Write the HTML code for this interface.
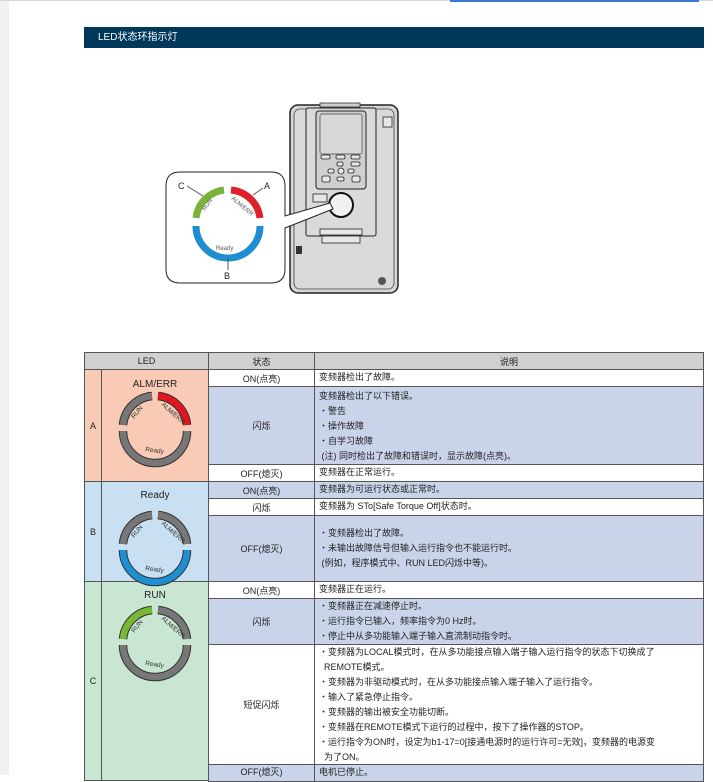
<!DOCTYPE html>
<html><head><meta charset="utf-8"><style>
*{margin:0;padding:0;box-sizing:border-box}
body{width:713px;height:775px;overflow:hidden;background:#fff;font-family:"Liberation Sans","Noto Sans CJK SC",sans-serif;font-size:9px;color:#222;position:relative}
.a{position:absolute}
.c{position:absolute;border:1px solid #555;display:flex;align-items:center;justify-content:center;text-align:center}
.d{position:absolute;border:1px solid #555;padding:0 4px;line-height:15px}
.w{background:#fff}.b{background:#c9d4ea}
</style></head><body>
<div class="a" style="left:0;top:0;width:9px;height:775px;background:#f0f0f0"></div>
<div class="a" style="left:0;top:0;width:713px;height:1px;background:#d8d8d8"></div>
<div class="a" style="left:450px;top:0;width:249px;height:2px;background:#3b78d8"></div>
<div class="a" style="left:84px;top:27px;width:620px;height:21px;background:#00385c;color:#fff;font-size:10px;line-height:21px;padding-left:14px">LED状态环指示灯</div>

<svg class="a" style="left:0;top:0" width="713" height="350">
 <rect x="290" y="105" width="108" height="188" rx="8" fill="#d6d6d6" stroke="#222" stroke-width="1.5"/>
 <rect x="294" y="109" width="100" height="180" rx="6" fill="#d9d9d9" stroke="#444" stroke-width="0.8"/>
 <rect x="320" y="103" width="40" height="4" fill="#ccc" stroke="#333" stroke-width="0.8"/>
 <rect x="306" y="108" width="70" height="128" rx="2" fill="#dadada" stroke="#222" stroke-width="1"/>
 <rect x="316" y="111" width="50" height="78" rx="3" fill="#cfcfcf" stroke="#222" stroke-width="1"/>
 <rect x="320" y="114" width="42" height="40" rx="2" fill="#d8d8d8" stroke="#444" stroke-width="0.7"/>
 <g fill="#e6e6e6" stroke="#222" stroke-width="0.8">
 <rect x="321" y="155" width="9" height="4" rx="1.5"/><rect x="336" y="155" width="9" height="4" rx="1.5"/><rect x="351" y="155" width="9" height="4" rx="1.5"/>
 <rect x="337" y="162" width="6" height="4" rx="1.5"/><rect x="351" y="162" width="9" height="4" rx="1.5"/>
 <rect x="328" y="169" width="6" height="4" rx="1.5"/><circle cx="341" cy="171" r="3"/><rect x="348" y="169" width="6" height="4" rx="1.5"/>
 <rect x="322" y="176" width="8" height="6" rx="1.5"/><rect x="337" y="177" width="7" height="4" rx="1.5"/><rect x="352" y="176" width="8" height="6" rx="1.5"/>
 <rect x="313" y="194" width="14" height="8"/>
 <rect x="320" y="229" width="42" height="6"/><rect x="322" y="236" width="38" height="7"/>
 <rect x="383" y="117" width="9" height="10"/>
 </g>
 <rect x="296" y="246" width="6" height="8" fill="#333"/>
 <circle cx="382" cy="281" r="4" fill="#555"/>
 <circle cx="341" cy="205" r="12" fill="#f0f0f0" stroke="#111" stroke-width="2"/>
 <path d="M180 172 H271 Q285 172 285 186 V216 L330 203 L333 209 L285 228 V269 Q285 283 271 283 H180 Q166 283 166 269 V186 Q166 172 180 172 Z" fill="#fff" stroke="#222" stroke-width="1"/>
 <g fill="none" stroke-width="7">
  <path d="M196 218 A32 32 0 0 1 224 190" stroke="#7ab33a"/>
  <path d="M231 190 A32 32 0 0 1 260 218" stroke="#e0202a"/>
  <path d="M260 226 A32 32 0 0 1 196 226" stroke="#1e8ed0"/>
 </g>
 <g stroke="#555" stroke-width="1"><line x1="187" y1="186" x2="203" y2="196"/><line x1="263" y1="188" x2="253" y2="195"/><line x1="228" y1="258" x2="228" y2="270"/></g>
 <g font-size="9" fill="#222"><text x="178" y="189">C</text><text x="264" y="189">A</text><text x="224" y="279">B</text></g>
 <g font-size="6" fill="#555"><text transform="translate(205,211) rotate(-55)">RUN</text><text transform="translate(231,199) rotate(40)">ALM/ERR</text><text x="216" y="250">Ready</text></g>
</svg>

<div class="c" style="left:84px;top:352px;width:125px;height:18px;background:#d0d0d0">LED</div>
<div class="c" style="left:208px;top:352px;width:107px;height:18px;background:#d0d0d0">状态</div>
<div class="c" style="left:314px;top:352px;width:390px;height:18px;background:#d0d0d0">说明</div>

<div class="c" style="left:84px;top:369px;width:18px;height:113px;background:#f9cab6">A</div>
<div class="c" style="left:101px;top:369px;width:108px;height:113px;background:#f9cab6;align-items:flex-start;padding-top:9px;font-size:10px">ALM/ERR</div>
<div class="c" style="left:84px;top:481px;width:18px;height:101px;background:#c9e0f2">B</div>
<div class="c" style="left:101px;top:481px;width:108px;height:101px;background:#c9e0f2;align-items:flex-start;padding-top:8px;font-size:10px">Ready</div>
<div class="c" style="left:84px;top:581px;width:18px;height:200px;background:#c9e6d3">C</div>
<div class="c" style="left:101px;top:581px;width:108px;height:200px;background:#c9e6d3;align-items:flex-start;padding-top:8px;font-size:10px">RUN</div>

<div class="c w" style="left:208px;top:369px;width:107px;height:18px">ON(点亮)</div>
<div class="d w" style="left:314px;top:369px;width:390px;height:18px">变频器检出了故障。</div>
<div class="c b" style="left:208px;top:386px;width:107px;height:79px">闪烁</div>
<div class="d b" style="left:314px;top:386px;width:390px;height:79px;padding-top:2px">变频器检出了以下错误。<br>・警告<br>・操作故障<br>・自学习故障<br>&nbsp;(注) 同时检出了故障和错误时，显示故障(点亮)。</div>
<div class="c w" style="left:208px;top:464px;width:107px;height:18px">OFF(熄灭)</div>
<div class="d w" style="left:314px;top:464px;width:390px;height:18px">变频器在正常运行。</div>

<div class="c b" style="left:208px;top:481px;width:107px;height:18px">ON(点亮)</div>
<div class="d b" style="left:314px;top:481px;width:390px;height:18px">变频器为可运行状态或正常时。</div>
<div class="c w" style="left:208px;top:498px;width:107px;height:18px">闪烁</div>
<div class="d w" style="left:314px;top:498px;width:390px;height:18px">变频器为 STo[Safe Torque Off]状态时。</div>
<div class="c b" style="left:208px;top:515px;width:107px;height:67px">OFF(熄灭)</div>
<div class="d b" style="left:314px;top:515px;width:390px;height:67px;padding-top:10px">・变频器检出了故障。<br>・未输出故障信号但输入运行指令也不能运行时。<br>&nbsp;(例如，程序模式中、RUN LED闪烁中等)。</div>

<div class="c w" style="left:208px;top:581px;width:107px;height:18px">ON(点亮)</div>
<div class="d w" style="left:314px;top:581px;width:390px;height:18px">变频器正在运行。</div>
<div class="c b" style="left:208px;top:598px;width:107px;height:47px">闪烁</div>
<div class="d b" style="left:314px;top:598px;width:390px;height:47px;padding-top:0">・变频器正在减速停止时。<br>・运行指令已输入，频率指令为0 Hz时。<br>・停止中从多功能输入端子输入直流制动指令时。</div>
<div class="c w" style="left:208px;top:644px;width:107px;height:121px">短促闪烁</div>
<div class="d w" style="left:314px;top:644px;width:390px;height:121px;padding-top:0">・变频器为LOCAL模式时，在从多功能接点输入端子输入运行指令的状态下切换成了<br>&nbsp;&nbsp;REMOTE模式。<br>・变频器为非驱动模式时，在从多功能接点输入端子输入了运行指令。<br>・输入了紧急停止指令。<br>・变频器的输出被安全功能切断。<br>・变频器在REMOTE模式下运行的过程中，按下了操作器的STOP。<br>・运行指令为ON时，设定为b1-17=0[接通电源时的运行许可=无效]，变频器的电源变<br>&nbsp;&nbsp;为了ON。</div>
<div class="c b" style="left:208px;top:764px;width:107px;height:18px;align-items:flex-start">OFF(熄灭)</div>
<div class="d b" style="left:314px;top:764px;width:390px;height:18px;line-height:15px">电机已停止。</div>

<svg class="a" style="left:0;top:0" width="713" height="775">
 <defs>
  <g id="ring">
   <path d="M-32 -3 A32 32 0 0 1 -3 -32" fill="none" stroke="#333" stroke-width="8.5"/>
   <path d="M3 -32 A32 32 0 0 1 32 -3" fill="none" stroke="#333" stroke-width="8.5"/>
   <path d="M32 3 A32 32 0 0 1 -32 3" fill="none" stroke="#333" stroke-width="8.5"/>
  </g>
 </defs>
 <g font-size="6.5" fill="#333">
  <g transform="translate(155,428)">
   <use href="#ring"/>
   <path d="M-32 -3 A32 32 0 0 1 -3 -32" fill="none" stroke="#777" stroke-width="6.5"/>
   <path d="M3 -32 A32 32 0 0 1 32 -3" fill="none" stroke="#e3161f" stroke-width="6.5"/>
   <path d="M32 3 A32 32 0 0 1 -32 3" fill="none" stroke="#777" stroke-width="6.5"/>
   <text transform="translate(-21,-9) rotate(-50)">RUN</text><text transform="translate(6,-23) rotate(42)">ALM/ERR</text><text transform="translate(-10,23) rotate(8)">Ready</text>
  </g>
  <g transform="translate(155,547)">
   <use href="#ring"/>
   <path d="M-32 -3 A32 32 0 0 1 -3 -32" fill="none" stroke="#777" stroke-width="6.5"/>
   <path d="M3 -32 A32 32 0 0 1 32 -3" fill="none" stroke="#777" stroke-width="6.5"/>
   <path d="M32 3 A32 32 0 0 1 -32 3" fill="none" stroke="#1d8fd3" stroke-width="6.5"/>
   <text transform="translate(-21,-9) rotate(-50)">RUN</text><text transform="translate(6,-23) rotate(42)">ALM/ERR</text><text transform="translate(-10,23) rotate(8)">Ready</text>
  </g>
  <g transform="translate(155,642)">
   <use href="#ring"/>
   <path d="M-32 -3 A32 32 0 0 1 -3 -32" fill="none" stroke="#7ab833" stroke-width="6.5"/>
   <path d="M3 -32 A32 32 0 0 1 32 -3" fill="none" stroke="#777" stroke-width="6.5"/>
   <path d="M32 3 A32 32 0 0 1 -32 3" fill="none" stroke="#777" stroke-width="6.5"/>
   <text transform="translate(-21,-9) rotate(-50)">RUN</text><text transform="translate(6,-23) rotate(42)">ALM/ERR</text><text transform="translate(-10,23) rotate(8)">Ready</text>
  </g>
 </g>
</svg>
</body></html>
